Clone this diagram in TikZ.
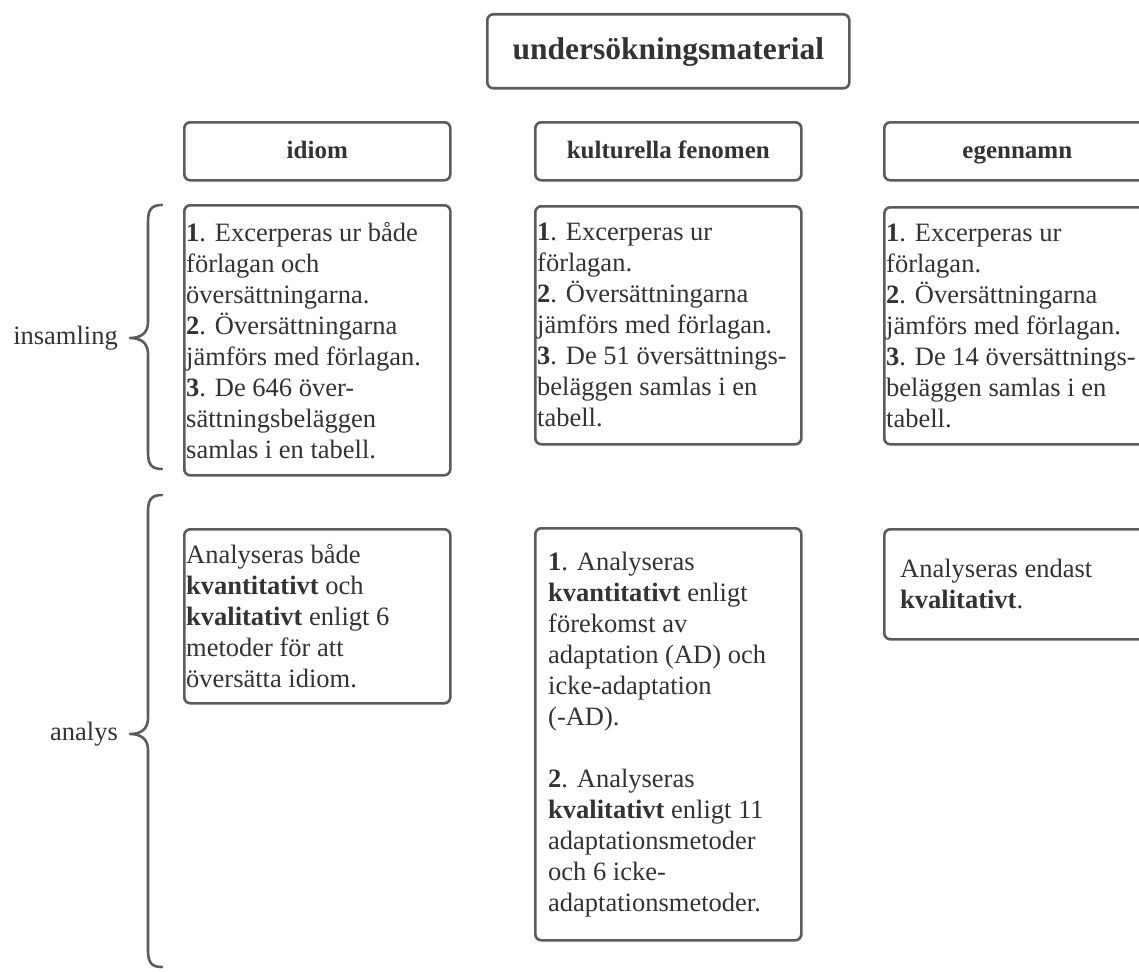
\documentclass[tikz,border=0pt]{standalone}
\usepackage{fontspec}
\setmainfont{Liberation Serif}
\definecolor{bordergray}{HTML}{5C5C5C}
\definecolor{txtgray}{HTML}{333333}
\begin{document}
\begin{tikzpicture}[x=1pt,y=-1pt,
  boxshape/.style={draw=bordergray, line width=2.6pt, rounded corners=6pt, anchor=north west, inner sep=0pt, fill=white},
  headtext/.style={font=\fontsize{25}{30}\selectfont\bfseries, text=txtgray, text height=17pt, text depth=3pt},
  bodytext/.style={font=\fontsize{26.5}{31}\selectfont, text=txtgray, align=left, anchor=west, inner sep=0pt},
  bracepath/.style={draw=bordergray, line width=2.6pt, line cap=round, line join=round},
  sidelabel/.style={font=\fontsize{26.5}{31}\selectfont, text=txtgray, anchor=east, inner sep=0pt}]
\useasboundingbox (0,0) rectangle (1139,971);
\clip (0,0) rectangle (1139,971);

% title
\node[boxshape, minimum width=362pt, minimum height=74pt, font=\fontsize{31.5}{36}\selectfont\bfseries, text=txtgray, text height=22pt, text depth=6pt] (title) at (486,13) {undersökningsmaterial};

% headers
\node[boxshape, minimum width=266pt, minimum height=58pt, headtext] (hidiom) at (183,121) {idiom};
\node[boxshape, minimum width=266pt, minimum height=58pt, headtext] (hkultur) at (534,121) {kulturella fenomen};
\node[boxshape, minimum width=266pt, minimum height=58pt, headtext] (hegen) at (883,121) {egennamn};

% insamling boxes
\node[boxshape, minimum width=266pt, minimum height=270pt] (iidiom) at (183,204) {};
\node[bodytext] (tiidiom) at ([xshift=3pt]iidiom.west) {\textbf{1}. Excerperas ur både\\förlagan och\\översättningarna.\\\textbf{2}. Översättningarna\\jämförs med förlagan.\\\textbf{3}. De 646 över-\\sättningsbeläggen\\samlas i en tabell.};

\node[boxshape, minimum width=266pt, minimum height=238pt] (ikultur) at (534,205) {};
\node[bodytext] (tikultur) at ([xshift=3pt]ikultur.west) {\textbf{1}. Excerperas ur\\förlagan.\\\textbf{2}. Översättningarna\\jämförs med förlagan.\\\textbf{3}. De 51 översättnings-\\beläggen samlas i en\\tabell.};

\node[boxshape, minimum width=266pt, minimum height=237pt] (iegen) at (883,206) {};
\node[bodytext] (tiegen) at ([xshift=3pt]iegen.west) {\textbf{1}. Excerperas ur\\förlagan.\\\textbf{2}. Översättningarna\\jämförs med förlagan.\\\textbf{3}. De 14 översättnings-\\beläggen samlas i en\\tabell.};

% analys boxes
\node[boxshape, minimum width=266pt, minimum height=174pt] (aidiom) at (183,528) {};
\node[bodytext] (taidiom) at ([xshift=3pt]aidiom.west) {Analyseras både\\\textbf{kvantitativt} och\\\textbf{kvalitativt} enligt 6\\metoder för att\\översätta idiom.};

\node[boxshape, minimum width=266pt, minimum height=412pt] (akultur) at (534,527) {};
\node[bodytext] (takultur) at ([xshift=14pt]akultur.west) {\textbf{1}. Analyseras\\\textbf{kvantitativt} enligt\\förekomst av\\adaptation (AD) och\\icke-adaptation\\(-AD).\\[31pt]\textbf{2}. Analyseras\\\textbf{kvalitativt} enligt 11\\adaptationsmetoder\\och 6 icke-\\adaptationsmetoder.};

\node[boxshape, minimum width=266pt, minimum height=110pt] (aegen) at (883,528) {};
\node[bodytext] (taegen) at ([xshift=17pt]aegen.west) {Analyseras endast\\\textbf{kvalitativt}.};

% braces
\coordinate (b1top) at (162,205);
\coordinate (b1tip) at (130,338);
\coordinate (b1bot) at (162,469);
\draw[bracepath] (b1top) .. controls (151,205) and (148,210) .. (148,222) -- (148,322)
  .. controls (148,333) and (141,338) .. (b1tip)
  .. controls (141,338) and (148,343) .. (148,354) -- (148,452)
  .. controls (148,464) and (151,469) .. (b1bot);
\node[sidelabel] (linsamling) at (118,338) {insamling};

\coordinate (b2top) at (162,495);
\coordinate (b2tip) at (130,734);
\coordinate (b2bot) at (162,967);
\draw[bracepath] (b2top) .. controls (151,495) and (148,500) .. (148,512) -- (148,718)
  .. controls (148,729) and (141,734) .. (b2tip)
  .. controls (141,734) and (148,739) .. (148,750) -- (148,950)
  .. controls (148,962) and (151,967) .. (b2bot);
\node[sidelabel] (lanalys) at (118,734) {analys};
\end{tikzpicture}
\end{document}
